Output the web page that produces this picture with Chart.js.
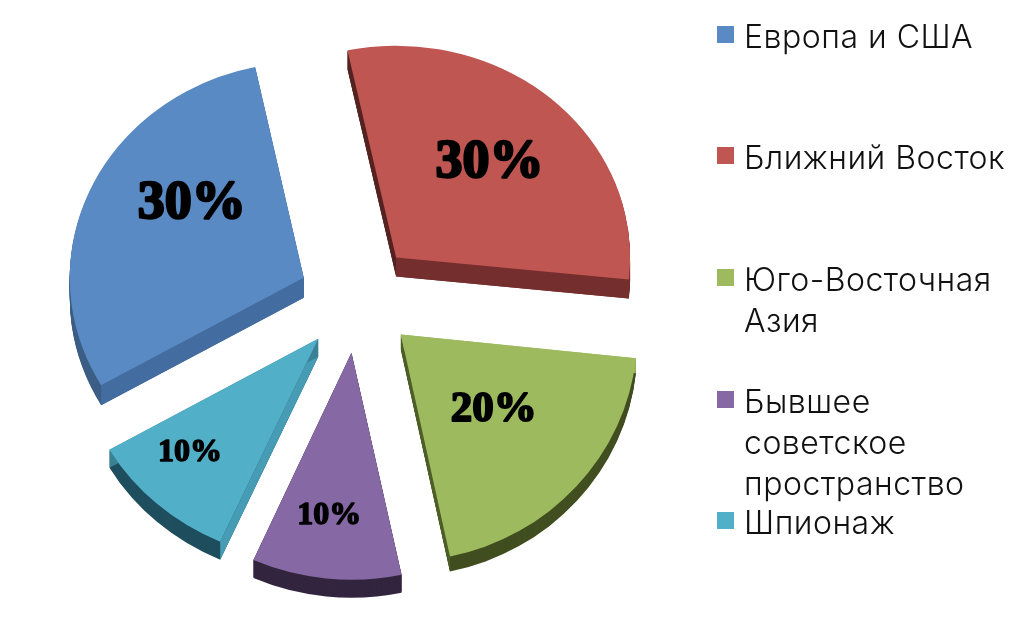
<!DOCTYPE html>
<html>
<head>
<meta charset="utf-8">
<style>
html, body { margin: 0; padding: 0; background: #fff; }
#wrap { width: 1024px; height: 617px; position: relative; }
</style>
</head>
<body>
<div id="wrap"><canvas id="myChart" width="1024" height="617"></canvas></div>
<script src="https://cdn.jsdelivr.net/npm/chart.js"></script>
<script>
// data
var categories = ['Европа и США', 'Ближний Восток', 'Юго-Восточная Азия', 'Бывшее советское пространство', 'Шпионаж'];
var shares = [30, 30, 20, 10, 10];
var valueLabels = ['30%', '30%', '20%', '10%', '10%'];

// style, one entry per slice
var faceColors = ['#5a8ac3', '#c05651', '#9dbb5e', '#8568a4', '#52afc8'];
var rimColors = ['#3d5f86', '#752e2e', '#414e20', '#33253f', '#1f4e5e'];
var startEdgeColors = ['#436da1', '#552222', '#9dbb5e', '#33253f', '#469bb5'];
var endEdgeColors = ['#436da1', '#752e2e', '#4c5f26', '#33253f', '#3a8196'];
var explode = [55, 60, 59, 53, 52];
var nudge = [[-2, 0], [0, 2], [1, -5], [1, 0], [-3, 0]];
var depths = [20, 19, 15, 18, 18];
var squash = [0.92, 0.905, 0.97, 0.97, 0.95];
var stretch = [1.0, 1, 1.01, 1.03, 1.03];
var labelSizes = [54, 54, 43, 32, 32];
var labelShift = [[-7, -26], [15, -5], [7, -8], [-9, 47], [-53, 27]];

// legend layout
var legendLines = [['Европа и США'], ['Ближний Восток'], ['Юго-Восточная', 'Азия'], ['Бывшее', 'советское', 'пространство'], ['Шпионаж']];
var legendTops = [26, 147, 269, 391, 512];

// real order in the picture starts at the red slice, blue is last
var order = [1, 2, 3, 4, 0];
function pick(arr) { return order.map(function(i) { return arr[i]; }); }

function slicePath(ctx, el) {
    ctx.beginPath();
    ctx.moveTo(0, 0);
    ctx.arc(0, 0, el.outerRadius, el.startAngle, el.endAngle);
    ctx.closePath();
}

function drawSlice(ctx, el, i) {
    var mid = (el.startAngle + el.endAngle) / 2;
    var off = el.options.offset / 4;
    var ax = el.x + Math.cos(mid) * off + nudge[i][0];
    var ay = el.y + Math.sin(mid) * off + nudge[i][1];
    var s = squash[i];
    var sx = stretch[i];
    var d = depths[i];
    var r = el.outerRadius;

    // thickness under the face
    for (var k = d; k > 0; k--) {
        ctx.save();
        ctx.translate(ax, ay + k);
        ctx.scale(sx, s);
        slicePath(ctx, el);
        ctx.fillStyle = rimColors[i];
        ctx.fill();
        ctx.restore();
    }
    // the two straight sides
    [[el.startAngle, startEdgeColors[i]], [el.endAngle, endEdgeColors[i]]].forEach(function(edge) {
        var ex = ax + Math.cos(edge[0]) * r * sx;
        var ey = ay + Math.sin(edge[0]) * r * s;
        ctx.beginPath();
        ctx.moveTo(ax, ay);
        ctx.lineTo(ex, ey);
        ctx.lineTo(ex, ey + d);
        ctx.lineTo(ax, ay + d);
        ctx.closePath();
        ctx.fillStyle = edge[1];
        ctx.fill();
    });
    // face
    ctx.save();
    ctx.translate(ax, ay);
    ctx.scale(sx, s);
    slicePath(ctx, el);
    ctx.fillStyle = faceColors[i];
    ctx.fill();
    ctx.restore();
}

var slices3d = {
    id: 'slices3d',
    beforeDatasetDraw: function(chart) {
        var ctx = chart.ctx;
        chart.getDatasetMeta(0).data.forEach(function(el, n) {
            drawSlice(ctx, el, order[n]);
        });
        return false;
    },
    afterDraw: function(chart) {
        var ctx = chart.ctx;
        // percent labels, the stroke fattens the serif
        chart.getDatasetMeta(0).data.forEach(function(el, n) {
            var i = order[n];
            var mid = (el.startAngle + el.endAngle) / 2;
            var dist = el.outerRadius / 2 + el.options.offset / 4;
            var x = el.x + Math.cos(mid) * dist + labelShift[i][0];
            var y = el.y + Math.sin(mid) * dist + labelShift[i][1];
            ctx.save();
            ctx.font = 'bold ' + labelSizes[i] + 'px "Liberation Serif"';
            ctx.textAlign = 'center';
            ctx.textBaseline = 'middle';
            ctx.fillStyle = '#000';
            ctx.strokeStyle = '#000';
            ctx.lineWidth = labelSizes[i] / 22;
            ctx.lineJoin = 'round';
            ctx.strokeText(valueLabels[i], x, y);
            ctx.fillText(valueLabels[i], x, y);
            ctx.restore();
        });
        // legend
        ctx.save();
        ctx.font = '300 32px Inter';
        ctx.letterSpacing = '0.5px';
        ctx.textAlign = 'left';
        ctx.textBaseline = 'alphabetic';
        legendLines.forEach(function(lines, i) {
            ctx.fillStyle = faceColors[i];
            ctx.fillRect(717, legendTops[i], 17, 17);
            ctx.fillStyle = '#111';
            lines.forEach(function(line, j) {
                ctx.fillText(line, 744, legendTops[i] + 22 + j * 41);
            });
        });
        ctx.restore();
    }
};

var ctx = document.getElementById('myChart');
var myPieChart = new Chart(ctx, {
    type: 'pie',
    data: {
        labels: pick(categories),
        datasets: [{
            data: pick(shares),
            backgroundColor: pick(faceColors),
            offset: pick(explode).map(function(v) { return v * 4; }),
            borderWidth: 0
        }]
    },
    options: {
        responsive: false,
        animation: false,
        rotation: -12,
        radius: 234,
        events: [],
        layout: { padding: { right: 312, bottom: 17 } },
        plugins: { legend: { display: false }, tooltip: { enabled: false } }
    },
    plugins: [slices3d]
});
</script>
</body>
</html>
